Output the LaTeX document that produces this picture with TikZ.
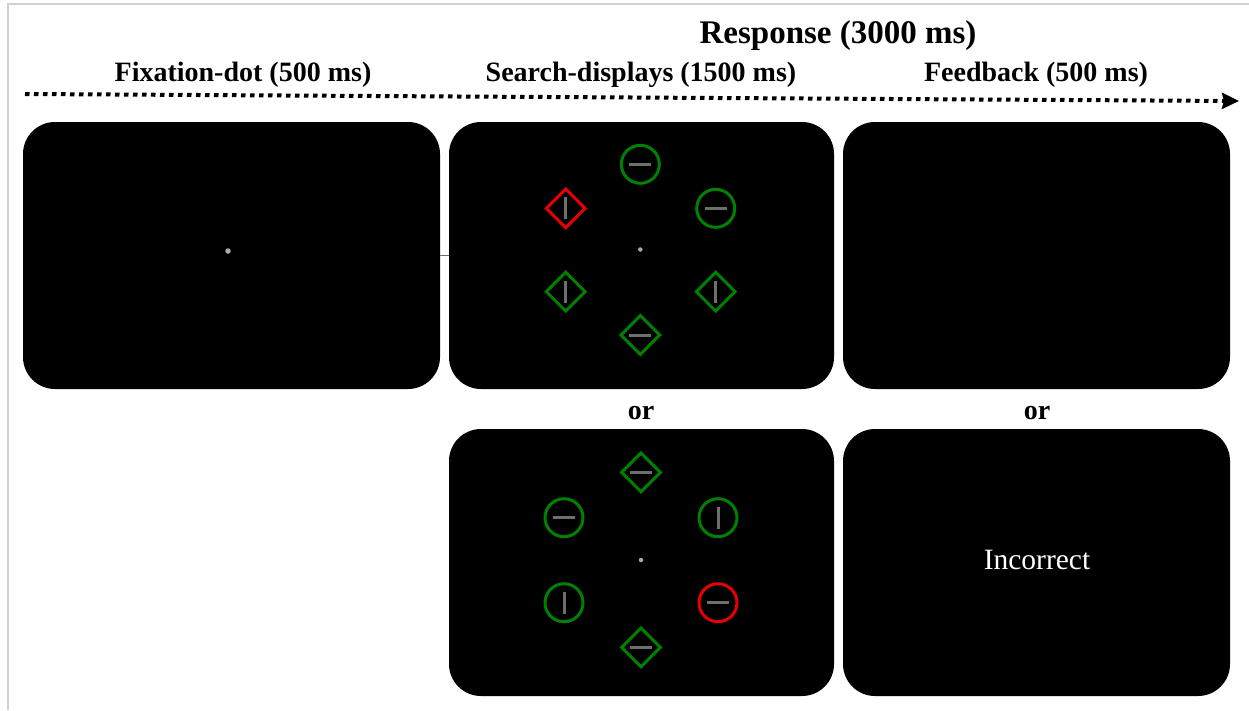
\documentclass[tikz,border=0pt]{standalone}
\usepackage{fontspec}
\setmainfont{Liberation Serif}
\usetikzlibrary{shapes.geometric,arrows.meta,calc}
\definecolor{stimgreen}{RGB}{0,128,0}
\definecolor{stimred}{RGB}{230,0,0}
\definecolor{bargray}{RGB}{110,110,110}
\definecolor{framegray}{RGB}{208,208,208}
\definecolor{dotgray}{RGB}{170,170,170}
\tikzset{
  panel/.style={rectangle, rounded corners=32pt, fill=black, draw=none, minimum height=267pt, inner sep=0pt},
  hdr/.style={font=\fontsize{28}{30}\selectfont\bfseries, inner sep=0pt},
  stimbase/.style={minimum width=38pt, minimum height=38pt, inner sep=0pt, line width=3pt},
  diastim/.style={stimbase, diamond, minimum width=40pt, minimum height=40pt},
  circstim/.style={stimbase, circle},
  bar/.style={draw=bargray, line width=3pt},
  hbar/.style={path picture={\draw[bar] ([xshift=-11pt]path picture bounding box.center) -- ([xshift=11pt]path picture bounding box.center);}},
  vbar/.style={path picture={\draw[bar] ([yshift=-11pt]path picture bounding box.center) -- ([yshift=11pt]path picture bounding box.center);}},
  fixdot/.style={circle, fill=dotgray, inner sep=0pt, minimum size=#1},
  fixdot/.default=4.5pt
}
\begin{document}
\begin{tikzpicture}[x=1pt,y=-1pt]
\useasboundingbox[fill=white] (0,0) rectangle (1249,710);
% frame
\draw[framegray, line width=2.5pt] (8,710) -- (8,4) -- (1249,4);

% headers
\node[hdr, font=\fontsize{33}{35}\selectfont\bfseries] (resp) at (838,36) {Response (3000 ms)};
\node[hdr] (hfix) at (243,75) {Fixation-dot (500 ms)};
\node[hdr] (hsearch) at (641,75) {Search-displays (1500 ms)};
\node[hdr] (hfb) at (1036,75) {Feedback (500 ms)};

% time arrow
\coordinate (arrS) at (25,94);
\coordinate (arrE) at (1239,101);
\draw[line width=4pt, dash pattern=on 4.5pt off 4.5pt, -{Stealth[length=17pt, width=16pt, inset=2pt]}] (arrS) -- (arrE);

% panels
\node[panel, minimum width=417pt] (fix) at (231.5,255.5) {};
\node[panel, minimum width=385pt] (search1) at (641.5,255.5) {};
\node[panel, minimum width=387pt] (fb1) at (1036.5,255.5) {};
\node[panel, minimum width=385pt] (search2) at (641.5,562.5) {};
\node[panel, minimum width=387pt] (fb2) at (1036.5,562.5) {};

\draw[bargray, line width=1.5pt] (fix.east) -- (search1.west);

% "or" labels
\node[hdr] (or1) at (641,413) {or};
\node[hdr] (or2) at (1037,413) {or};

% fixation dots
\node[fixdot=5.5pt] (fd1) at (228,251) {};
\node[fixdot] (fd2) at (640.3,249.5) {};
\node[fixdot] (fd3) at (641,560) {};

% search display 1
\node[circstim, draw=stimgreen, hbar] (s1a) at (640.3,164.3) {};
\node[diastim, draw=stimred, vbar] (s1b) at (565.7,208.3) {};
\node[circstim, draw=stimgreen, hbar] (s1c) at (715.7,208.3) {};
\node[diastim, draw=stimgreen, vbar] (s1d) at (565.7,291.7) {};
\node[diastim, draw=stimgreen, vbar] (s1e) at (715.7,291.7) {};
\node[diastim, draw=stimgreen, hbar] (s1f) at (640.3,335) {};

% search display 2
\node[diastim, draw=stimgreen, hbar] (s2a) at (641,472.3) {};
\node[circstim, draw=stimgreen, hbar] (s2b) at (564,517.7) {};
\node[circstim, draw=stimgreen, vbar] (s2c) at (718,517.7) {};
\node[circstim, draw=stimgreen, vbar] (s2d) at (564,602.7) {};
\node[circstim, draw=stimred, hbar] (s2e) at (718,602.7) {};
\node[diastim, draw=stimgreen, hbar] (s2f) at (641,647.3) {};

% feedback
\node[text=white, font=\fontsize{29.5}{31}\selectfont, inner sep=0pt] (inc) at (1037,560) {Incorrect};
\end{tikzpicture}
\end{document}
